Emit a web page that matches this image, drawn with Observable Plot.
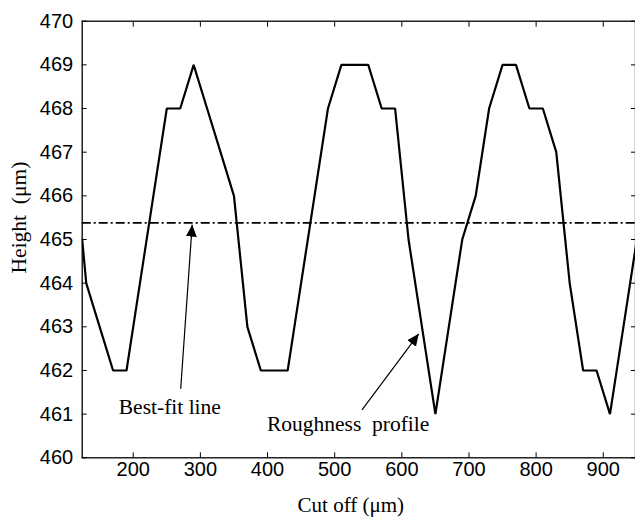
<!DOCTYPE html>
<html>
<head>
<meta charset="utf-8">
<script src="https://cdn.jsdelivr.net/npm/d3@7"></script>
<script src="https://cdn.jsdelivr.net/npm/@observablehq/plot@0.6"></script>
<style>
  html, body { margin: 0; padding: 0; background: white; }
</style>
</head>
<body>
<div id="chart"></div>
<script>
// Roughness profile (cut off in µm, height in µm)
const cutOff = [124,130,150,170,190,210,230,250,270,290,310,330,350,370,390,410,430,450,470,490,510,530,550,570,590,610,630,650,670,690,710,730,750,770,790,810,830,850,870,890,910,930,950];
const height = [465,464,463,462,462,464,466,468,468,469,468,467,466,463,462,462,462,464,466,468,469,469,469,468,468,465,463,461,463,465,466,468,469,469,468,468,467,464,462,462,461,463,465];

// Best-fit (mean) line
const bestFit = [465.38];

// Axis ticks
const xTicks = [200,300,400,500,600,700,800,900];
const yTicks = [460,461,462,463,464,465,466,467,468,469,470];
const xDomain = [124, 948];
const yDomain = [460, 470];

// Annotations
const labelText = ["Best-fit line", "Roughness\u00a0 profile"];
const labelX = [254.5, 520];
const labelY = [461.17, 460.78];
const arrowX1 = [270.7, 540.7];
const arrowY1 = [461.58, 461.10];
const arrowX2 = [287.8, 625.2];
const arrowY2 = [465.34, 462.84];

const profile = cutOff.map((x, i) => ({x, y: height[i]}));
const labels = labelText.map((t, i) => ({t, x: labelX[i], y: labelY[i]}));
const arrows = arrowX1.map((x1, i) => ({x1, y1: arrowY1[i], x2: arrowX2[i], y2: arrowY2[i]}));

const sans = "Liberation Sans, Arial, Helvetica, sans-serif";
const serif = "Liberation Serif, Times New Roman, serif";

const chart = Plot.plot({
  width: 635,
  height: 519,
  marginTop: 20.7,
  marginBottom: 61.7,
  marginLeft: 81.7,
  marginRight: 0,
  style: {background: "white", color: "black", overflow: "visible"},
  x: {domain: xDomain},
  y: {domain: yDomain},
  marks: [
    Plot.ruleY(bestFit, {stroke: "black", strokeWidth: 1.8, strokeDasharray: "9,3,2,3"}),
    Plot.line(profile, {x: "x", y: "y", stroke: "black", strokeWidth: 2.2, strokeLinejoin: "miter", clip: true}),
    Plot.link(arrows, {x1: "x1", y1: "y1", x2: "x2", y2: "y2", stroke: "black", strokeWidth: 1.2}),
    Plot.text(labels, {x: "x", y: "y", text: "t", fontFamily: serif, fontSize: 21.5, fill: "black", textAnchor: "middle", lineAnchor: "middle"}),
    // tick labels
    Plot.axisX(xTicks, {anchor: "bottom", tickSize: 0, tickPadding: 4, fontFamily: sans, fontSize: 20, label: null}),
    Plot.axisY(yTicks, {anchor: "left", tickSize: 0, tickPadding: 9, fontFamily: sans, fontSize: 20, label: null}),
    // inward ticks on all four sides
    Plot.axisX(xTicks, {anchor: "bottom", tickSize: -5, tickFormat: () => "", label: null}),
    Plot.axisX(xTicks, {anchor: "top", tickSize: -5, tickFormat: () => "", label: null}),
    Plot.axisY(yTicks, {anchor: "left", tickSize: -5, tickFormat: () => "", label: null}),
    Plot.axisY(yTicks, {anchor: "right", tickSize: -5, tickFormat: () => "", label: null}),
    Plot.frame({stroke: "black", strokeWidth: 1.3}),
    // axis titles
    Plot.text(["Cut off (\u03bcm)"], {frameAnchor: "bottom", dx: -8, dy: 47, fontFamily: serif, fontSize: 21, fill: "black", textAnchor: "middle", lineAnchor: "middle"}),
    Plot.text(["Height\u00a0 (\u03bcm)"], {frameAnchor: "left", dx: -63, dy: -22, rotate: -90, fontFamily: serif, fontSize: 21.5, fill: "black", textAnchor: "middle", lineAnchor: "middle"})
  ]
});

// filled triangular arrowheads on the annotation links
const svg = d3.select(chart);
const defs = svg.insert("defs", ":first-child");
defs.append("marker")
  .attr("id", "tri-head")
  .attr("viewBox", "0 0 12 11")
  .attr("refX", 12).attr("refY", 5.5)
  .attr("markerWidth", 12).attr("markerHeight", 11)
  .attr("markerUnits", "userSpaceOnUse")
  .attr("orient", "auto")
  .append("path").attr("d", "M0,0L12,5.5L0,11Z").attr("fill", "black");
svg.selectAll('g[aria-label="link"] path').attr("marker-end", "url(#tri-head)");

document.getElementById("chart").appendChild(chart);
</script>
</body>
</html>
